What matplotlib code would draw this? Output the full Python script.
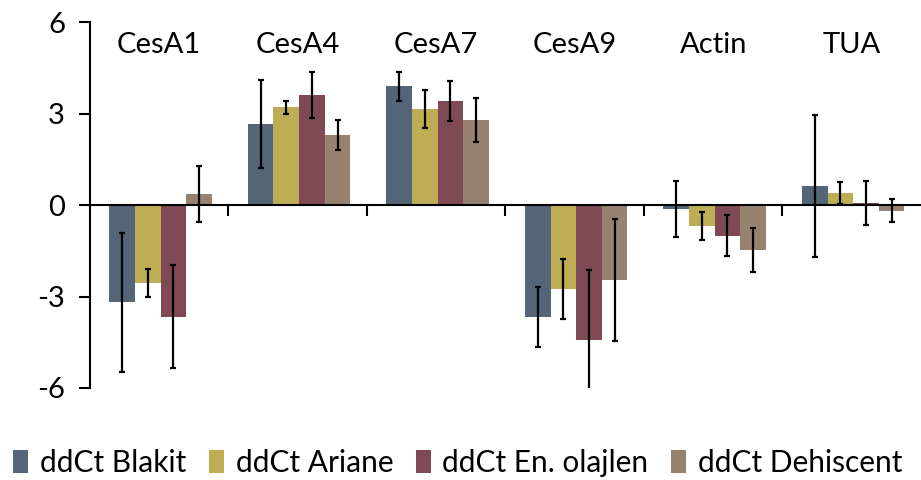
import numpy as np
import matplotlib
matplotlib.use('Agg')
import matplotlib.pyplot as plt

plt.rcParams['font.family'] = ['Lato', 'DejaVu Sans']

genes = ['CesA1', 'CesA4', 'CesA7', 'CesA9', 'Actin', 'TUA']
series = ['ddCt Blakit', 'ddCt Ariane', 'ddCt En. olajlen', 'ddCt Dehiscent']
colors = ['#546577', '#bead55', '#7f4a56', '#978270']

blakit = [-3.19, 2.65, 3.89, -3.67, -0.12, 0.61]
ariane = [-2.56, 3.20, 3.15, -2.75, -0.69, 0.39]
olajlen = [-3.67, 3.60, 3.42, -4.44, -1.00, 0.06]
dehiscent = [0.36, 2.30, 2.79, -2.45, -1.46, -0.18]

blakit_err = [2.27, 1.45, 0.48, 0.97, 0.92, 2.33]
ariane_err = [0.45, 0.20, 0.61, 0.98, 0.47, 0.37]
olajlen_err = [1.69, 0.75, 0.65, 2.32, 0.68, 0.72]
dehiscent_err = [0.91, 0.50, 0.71, 2.00, 0.72, 0.37]

values = [blakit, ariane, olajlen, dehiscent]
errors = [blakit_err, ariane_err, olajlen_err, dehiscent_err]

fig = plt.figure(figsize=(9.21, 4.8), dpi=100)
ax = fig.add_axes([0.0977, 0.1917, 0.9023, 0.7623])

x = np.arange(len(genes))
w = 0.185
for k in range(4):
    pos = x + (k - 1.5) * w + 0.01
    ax.bar(pos, values[k], w, color=colors[k], label=series[k], zorder=2)
    ax.errorbar(pos, values[k], yerr=errors[k], fmt='none', ecolor='black',
                elinewidth=1.6, capsize=2, capthick=1.6, zorder=3)

for i, g in enumerate(genes):
    ax.text(i, 5.25, g, ha='center', va='center', fontsize=21)

ax.set_xlim(-0.5, 5.5)
ax.set_ylim(-6, 6)
ax.set_yticks([-6, -3, 0, 3, 6])
ax.set_yticklabels(['-6', '-3', '0', '3', '6'])
ax.set_xticks(np.arange(0.5, 5.5, 1.0))
ax.set_xticklabels([])
ax.spines['bottom'].set_position(('data', 0))
ax.spines['top'].set_visible(False)
ax.spines['right'].set_visible(False)
ax.spines['left'].set_linewidth(1.5)
ax.spines['bottom'].set_linewidth(1.5)
ax.tick_params(axis='y', length=8, width=1.5, labelsize=21, pad=10)
ax.tick_params(axis='x', length=8, width=1.5, direction='out')

fig.legend(loc='center', bbox_to_anchor=(0.497, 0.035), ncol=4, frameon=False,
           fontsize=21.5, handlelength=0.5, handleheight=0.8, handletextpad=0.4,
           columnspacing=0.75)

fig.savefig('out.png', dpi=100)
